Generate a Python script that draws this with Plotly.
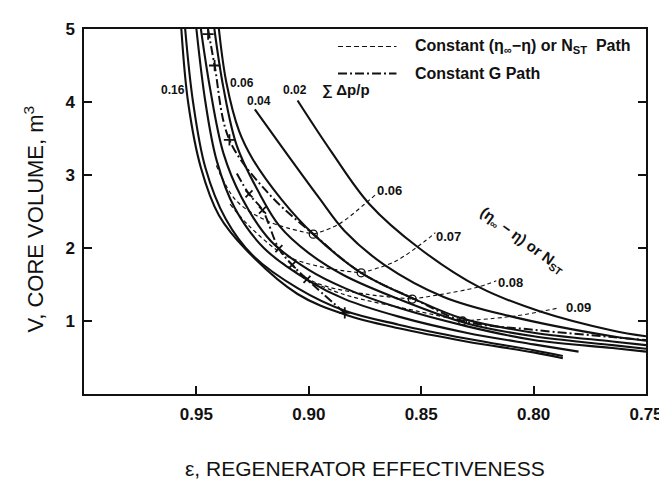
import plotly.graph_objects as go

# ---- data (epsilon, V) ----
# Solid curves: constant sum(dp/p)
eps_s02 = [0.905, 0.890, 0.873, 0.851, 0.824, 0.797, 0.765, 0.750]
v_s02 = [4.02, 3.32, 2.60, 2.00, 1.46, 1.13, 0.87, 0.79]

eps_s04 = [0.924, 0.910, 0.8955, 0.884, 0.8664, 0.840, 0.811, 0.765, 0.750]
v_s04 = [3.90, 3.30, 2.69, 2.23, 1.77, 1.33, 1.07, 0.79, 0.73]

eps_s06 = [0.940, 0.9367, 0.931, 0.925, 0.912, 0.898, 0.8767, 0.853, 0.8313, 0.800, 0.765, 0.750]
v_s06 = [5.00, 4.27, 3.60, 3.22, 2.66, 2.19, 1.66, 1.30, 1.03, 0.84, 0.72, 0.67]

eps_s08 = [0.942, 0.938, 0.932, 0.922, 0.913, 0.900, 0.884, 0.860, 0.830, 0.800, 0.765, 0.750]
v_s08 = [5.00, 4.20, 3.40, 2.75, 2.30, 1.93, 1.62, 1.30, 0.97, 0.79, 0.67, 0.62]

eps_s10 = [0.948, 0.944, 0.938, 0.930, 0.917, 0.900, 0.884, 0.860, 0.830, 0.800, 0.765, 0.750]
v_s10 = [5.00, 4.20, 3.30, 2.70, 2.10, 1.70, 1.45, 1.18, 0.93, 0.74, 0.63, 0.58]

eps_s12 = [0.950, 0.946, 0.941, 0.933, 0.920, 0.900, 0.884, 0.860, 0.830, 0.800, 0.780]
v_s12 = [5.00, 4.00, 3.20, 2.55, 2.00, 1.55, 1.30, 1.06, 0.84, 0.68, 0.58]

eps_s14 = [0.955, 0.9515, 0.946, 0.937, 0.925, 0.905, 0.884, 0.860, 0.830, 0.800, 0.787]
v_s14 = [5.00, 4.00, 3.10, 2.40, 1.90, 1.45, 1.14, 0.95, 0.76, 0.60, 0.52]

eps_s16 = [0.9567, 0.9537, 0.948, 0.940, 0.928, 0.905, 0.884, 0.860, 0.830, 0.800, 0.787]
v_s16 = [5.00, 4.00, 3.10, 2.45, 1.98, 1.37, 1.09, 0.90, 0.72, 0.57, 0.49]

# Dashed: constant (eta_inf - eta) paths
eps_d06 = [0.9411, 0.9323, 0.9177, 0.898]
v_d06 = [3.13, 2.65, 2.36, 2.19]
eps_d07 = [0.935, 0.9265, 0.9104, 0.8928, 0.8767]
v_d07 = [2.60, 2.30, 1.90, 1.73, 1.66]
eps_d08 = [0.912, 0.8957, 0.875, 0.853]
v_d08 = [1.80, 1.51, 1.37, 1.30]
eps_d09 = [0.903, 0.885, 0.851, 0.8313]
v_d09 = [1.60, 1.37, 1.13, 1.00]

# Dashed leaders from circles to labels
eps_l06 = [0.898, 0.887, 0.8752, 0.870]
v_l06 = [2.19, 2.32, 2.60, 2.74]
eps_l07 = [0.8767, 0.862, 0.8489, 0.8437]
v_l07 = [1.66, 1.81, 2.08, 2.21]
eps_l08 = [0.854, 0.840, 0.8254, 0.8166]
v_l08 = [1.30, 1.37, 1.46, 1.55]
eps_l09 = [0.8316, 0.8079, 0.7888]
v_l09 = [1.00, 1.07, 1.18]

eps_circ = [0.898, 0.8767, 0.854, 0.8316]
v_circ = [2.19, 1.66, 1.30, 1.00]

# Dash-dot: constant G paths
eps_g1 = [0.9448, 0.9419, 0.9353, 0.918, 0.898, 0.8767, 0.853, 0.8313, 0.800, 0.765, 0.750]
v_g1 = [5.00, 4.50, 3.48, 2.75, 2.19, 1.66, 1.30, 1.00, 0.88, 0.78, 0.74]
eps_g1_mk = [0.9448, 0.9419, 0.9353]
v_g1_mk = [4.93, 4.50, 3.48]

eps_g2 = [0.932, 0.9266, 0.9206, 0.9133, 0.9074, 0.9008, 0.884]
v_g2 = [3.02, 2.74, 2.52, 1.99, 1.77, 1.57, 1.11]
eps_g2_mk = [0.9266, 0.9206, 0.9133, 0.9074, 0.9008]
v_g2_mk = [2.74, 2.52, 1.99, 1.77, 1.57]
eps_g2_end = [0.884]
v_g2_end = [1.11]

x_ticks = [0.95, 0.90, 0.85, 0.80, 0.75]
x_ticktext = ["0.95", "0.90", "0.85", "0.80", "0.75"]
y_ticks = [1, 2, 3, 4, 5]
y_ticktext = ["1", "2", "3", "4", "5"]

INK = "#111111"
FONT = "Liberation Sans, Arial, sans-serif"

fig = go.Figure()

def add_line(xs, ys, width=2.0, dash="solid", shape="spline"):
    fig.add_trace(go.Scatter(x=xs, y=ys, mode="lines",
                             line=dict(color=INK, width=width, dash=dash, shape=shape, smoothing=1.0),
                             hoverinfo="skip", showlegend=False))

for ex, vy in [(eps_s02, v_s02), (eps_s04, v_s04), (eps_s06, v_s06), (eps_s08, v_s08),
               (eps_s10, v_s10), (eps_s12, v_s12), (eps_s14, v_s14), (eps_s16, v_s16)]:
    add_line(ex, vy, width=2.1)

for ex, vy in [(eps_d06, v_d06), (eps_d07, v_d07), (eps_d08, v_d08), (eps_d09, v_d09)]:
    add_line(ex, vy, width=1.2, dash="4px,3px")

for ex, vy in [(eps_l06, v_l06), (eps_l07, v_l07), (eps_l08, v_l08), (eps_l09, v_l09)]:
    add_line(ex, vy, width=1.1, dash="4px,3px")

DASHDOT = "9px,3px,2px,3px"
for ex, vy in [(eps_g1, v_g1), (eps_g2, v_g2)]:
    add_line(ex, vy, width=2.0, dash=DASHDOT)

fig.add_trace(go.Scatter(x=eps_circ, y=v_circ, mode="markers",
                         marker=dict(symbol="circle-open", size=8, color=INK, line=dict(width=1.3, color=INK)),
                         hoverinfo="skip", showlegend=False))
fig.add_trace(go.Scatter(x=eps_g1_mk + eps_g2_end, y=v_g1_mk + v_g2_end, mode="markers",
                         marker=dict(symbol="cross-thin", size=8, color=INK, line=dict(width=1.8, color=INK)),
                         hoverinfo="skip", showlegend=False))
fig.add_trace(go.Scatter(x=eps_g2_mk, y=v_g2_mk, mode="markers",
                         marker=dict(symbol="x-thin", size=7, color=INK, line=dict(width=1.8, color=INK)),
                         hoverinfo="skip", showlegend=False))

# legend samples (drawn inside the plot)
leg_x = [0.887, 0.861]
fig.add_trace(go.Scatter(x=leg_x, y=[4.76, 4.76], mode="lines",
                         line=dict(color=INK, width=1.2, dash="5px,3px"), hoverinfo="skip", showlegend=False))
fig.add_trace(go.Scatter(x=leg_x, y=[4.39, 4.39], mode="lines",
                         line=dict(color=INK, width=2.0, dash=DASHDOT), hoverinfo="skip", showlegend=False))

bold = dict(family=FONT, color=INK, weight="bold")

def note(x, y, text, size=12, angle=0, xanchor="center"):
    fig.add_annotation(x=x, y=y, xref="x", yref="y", text=text, showarrow=False,
                       font=dict(size=size, **bold), textangle=angle, xanchor=xanchor, yanchor="middle")

note(0.8535, 4.76, "Constant (η<sub>∞</sub>−η) or N<sub>ST</sub>  Path", size=16, xanchor="left")
note(0.8535, 4.39, "Constant G Path", size=16, xanchor="left")

note(0.9605, 4.16, "0.16", size=12)
note(0.9297, 4.26, "0.06", size=12)
note(0.9222, 4.02, "0.04", size=12)
note(0.9060, 4.16, "0.02", size=12)
note(0.8836, 4.16, "∑ Δp/p", size=15)

note(0.8642, 2.79, "0.06", size=13)
note(0.8379, 2.16, "0.07", size=13)
note(0.8102, 1.53, "0.08", size=13)
note(0.7800, 1.18, "0.09", size=13)
note(0.8049, 2.10, "(η<sub>∞</sub> − η) or N<sub>ST</sub>", size=15, angle=36)

# axis titles
fig.add_annotation(x=0.5, y=-0.205, xref="paper", yref="paper", showarrow=False,
                   text="ε, REGENERATOR EFFECTIVENESS", font=dict(family=FONT, size=21, color=INK),
                   xanchor="center", yanchor="middle")
fig.add_annotation(x=-0.0896, y=0.48, xref="paper", yref="paper", showarrow=False,
                   text="V, CORE VOLUME, m<sup>3</sup>", font=dict(family=FONT, size=22, color=INK),
                   textangle=-90, xanchor="center", yanchor="middle")

axis_common = dict(showgrid=False, zeroline=False, showline=True, linecolor=INK, linewidth=1.5,
                   ticks="inside", ticklen=8, tickwidth=1.5, tickcolor=INK,
                   tickfont=dict(size=17, **bold), ticklabelstandoff=4)

fig.update_xaxes(range=[1.0, 0.75], tickvals=x_ticks, ticktext=x_ticktext, mirror=True, **axis_common)
fig.update_yaxes(range=[0, 5], tickvals=y_ticks, ticktext=y_ticktext, mirror="ticks", **axis_common)

fig.update_layout(width=667, height=482, margin=dict(l=76, r=22, t=13, b=96),
                  paper_bgcolor="white", plot_bgcolor="white", showlegend=False,
                  font=dict(family=FONT, color=INK))

fig.write_html("out.html")
